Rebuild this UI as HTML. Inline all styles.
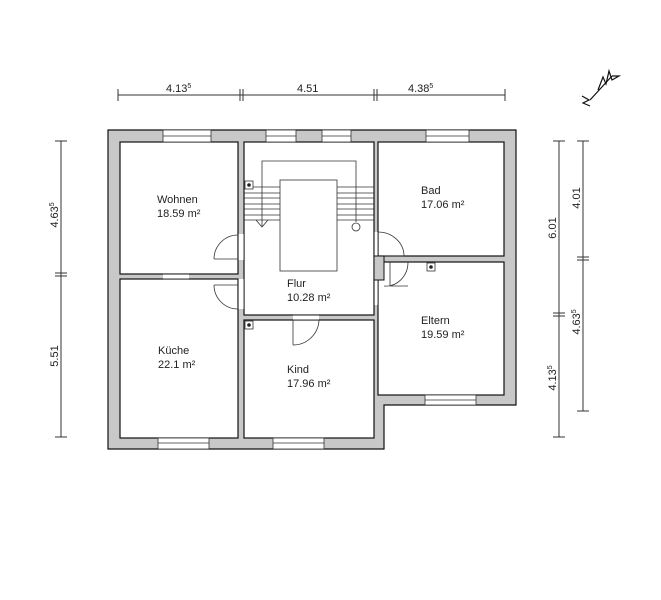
<!DOCTYPE html>
<html><head><meta charset="utf-8"><style>
body{margin:0;background:#fff}
svg{display:block}
text{font-family:"Liberation Sans",sans-serif;font-size:11px;fill:#222}
</style></head><body>
<svg width="661" height="600" viewBox="0 0 661 600" xmlns="http://www.w3.org/2000/svg">
<!-- dimension lines -->
<g stroke="#333" stroke-width="1" fill="none">
<line x1="118" y1="95" x2="505" y2="95"/>
<line x1="118" y1="89" x2="118" y2="101"/>
<line x1="240" y1="89" x2="240" y2="101"/><line x1="243" y1="89" x2="243" y2="101"/>
<line x1="374" y1="89" x2="374" y2="101"/><line x1="377" y1="89" x2="377" y2="101"/>
<line x1="505" y1="89" x2="505" y2="101"/>
<line x1="61" y1="141" x2="61" y2="437"/>
<line x1="55" y1="141" x2="67" y2="141"/>
<line x1="55" y1="273" x2="67" y2="273"/><line x1="55" y1="276" x2="67" y2="276"/>
<line x1="55" y1="437" x2="67" y2="437"/>
<line x1="559" y1="141" x2="559" y2="437"/>
<line x1="553" y1="141" x2="565" y2="141"/>
<line x1="553" y1="313" x2="565" y2="313"/><line x1="553" y1="316" x2="565" y2="316"/>
<line x1="553" y1="437" x2="565" y2="437"/>
<line x1="583" y1="141" x2="583" y2="411"/>
<line x1="577" y1="141" x2="589" y2="141"/>
<line x1="577" y1="257" x2="589" y2="257"/><line x1="577" y1="260" x2="589" y2="260"/>
<line x1="577" y1="411" x2="589" y2="411"/>
</g>
<text x="166" y="92">4.13<tspan font-size="7" dy="-4">5</tspan></text>
<text x="297" y="92">4.51</text>
<text x="408" y="92">4.38<tspan font-size="7" dy="-4">5</tspan></text>
<text transform="translate(58,215) rotate(-90)" text-anchor="middle">4.63<tspan font-size="7" dy="-4">5</tspan></text>
<text transform="translate(58,356) rotate(-90)" text-anchor="middle">5.51</text>
<text transform="translate(556,228) rotate(-90)" text-anchor="middle">6.01</text>
<text transform="translate(556,378) rotate(-90)" text-anchor="middle">4.13<tspan font-size="7" dy="-4">5</tspan></text>
<text transform="translate(580,198) rotate(-90)" text-anchor="middle">4.01</text>
<text transform="translate(580,322) rotate(-90)" text-anchor="middle">4.63<tspan font-size="7" dy="-4">5</tspan></text>
<!-- north arrow -->
<g stroke="#111" stroke-width="1.2" fill="none">
<line x1="590" y1="100" x2="612" y2="76"/>
<polyline points="598,90 603,77 606,84 609,71 612,80 619,76 612,76"/>
<polyline points="582,96 589,100 583,103 590,106"/>
</g>
<!-- outer shape -->
<path d="M108,130 H516 V405 H384 V449 H108 Z" fill="#c8c8c8" stroke="#111" stroke-width="1.2"/>
<!-- rooms -->
<g fill="#fff" stroke="#111" stroke-width="1.2">
<rect x="120" y="142" width="118" height="132"/>
<rect x="120" y="279" width="118" height="159"/>
<rect x="244" y="142" width="130" height="173"/>
<rect x="244" y="320" width="130" height="118"/>
<rect x="378" y="142" width="126" height="114"/>
<rect x="378" y="262" width="126" height="133"/>
</g>
<!-- windows / openings -->
<g fill="#fff" stroke="#333" stroke-width="0.8">
<rect x="163" y="130" width="48" height="12"/>
<rect x="266" y="130" width="30" height="12"/>
<rect x="322" y="130" width="29" height="12"/>
<rect x="426" y="130" width="43" height="12"/>
<rect x="158" y="438" width="51" height="11"/>
<rect x="273" y="438" width="51" height="11"/>
<rect x="425" y="395" width="51" height="10"/>
</g>
<g fill="#fff" stroke="none">
<rect x="163" y="274.6" width="26" height="4"/>
<rect x="293" y="315.6" width="26" height="4"/>
<rect x="238.6" y="234" width="5" height="26"/>
<rect x="238.6" y="279" width="5" height="30"/>
<rect x="374.6" y="232" width="3" height="24"/>
<rect x="374.6" y="280" width="3" height="25"/>
</g>
<g stroke="#333" stroke-width="0.8" fill="none">
<line x1="163" y1="136" x2="211" y2="136"/><line x1="266" y1="136" x2="296" y2="136"/>
<line x1="322" y1="136" x2="351" y2="136"/><line x1="426" y1="136" x2="469" y2="136"/>
<line x1="158" y1="443" x2="209" y2="443"/><line x1="273" y1="443" x2="324" y2="443"/>
<line x1="425" y1="400" x2="476" y2="400"/>
<line x1="163" y1="274" x2="189" y2="274"/><line x1="163" y1="279" x2="189" y2="279"/>
<line x1="293" y1="315" x2="319" y2="315"/><line x1="293" y1="320" x2="319" y2="320"/>
<!-- stairs -->
<polyline points="262,226 262,161 356,161 356,222"/>
<rect x="280" y="180" width="57" height="91"/>
<line x1="244" y1="187" x2="280" y2="187"/><line x1="244" y1="193" x2="280" y2="193"/>
<line x1="244" y1="198" x2="280" y2="198"/><line x1="244" y1="204" x2="280" y2="204"/>
<line x1="244" y1="209" x2="280" y2="209"/><line x1="244" y1="215" x2="280" y2="215"/>
<line x1="244" y1="220" x2="280" y2="220"/>
<line x1="337" y1="187" x2="374" y2="187"/><line x1="337" y1="193" x2="374" y2="193"/>
<line x1="337" y1="198" x2="374" y2="198"/><line x1="337" y1="204" x2="374" y2="204"/>
<line x1="337" y1="209" x2="374" y2="209"/><line x1="337" y1="215" x2="374" y2="215"/>
<line x1="337" y1="220" x2="374" y2="220"/>
<polyline points="256,220 262,227 268,220"/>
<circle cx="356" cy="227" r="4"/>
<!-- doors -->
<line x1="214" y1="259" x2="238" y2="259"/>
<path d="M214,259 A24,24 0 0 1 238,235"/>
<line x1="214" y1="285" x2="238" y2="285"/>
<path d="M214,285 A24,24 0 0 0 238,309"/>
<line x1="293" y1="320" x2="293" y2="345"/>
<path d="M293,345 A26,26 0 0 0 319,320"/>
<line x1="378" y1="256" x2="404" y2="256"/>
<path d="M404,256 A26,24 0 0 0 378,232"/>
<polyline points="390,262 390,286 408,286"/>
<path d="M408,262 A22,24 0 0 1 384,286"/>
</g>
<rect x="374" y="256" width="10" height="24" fill="#c8c8c8" stroke="#111" stroke-width="1"/>
<!-- sockets -->
<g fill="#fff" stroke="#333" stroke-width="0.8">
<rect x="245" y="181" width="8" height="8"/><rect x="427" y="263" width="8" height="8"/><rect x="245" y="321" width="8" height="8"/>
</g>
<g fill="#222"><circle cx="249" cy="185" r="1.8"/><circle cx="431" cy="267" r="1.8"/><circle cx="249" cy="325" r="1.8"/></g>
<!-- labels -->
<text x="157" y="203">Wohnen</text><text x="157" y="217">18.59 m²</text>
<text x="421" y="194">Bad</text><text x="421" y="208">17.06 m²</text>
<text x="287" y="287">Flur</text><text x="287" y="301">10.28 m²</text>
<text x="421" y="324">Eltern</text><text x="421" y="338">19.59 m²</text>
<text x="158" y="354">Küche</text><text x="158" y="368">22.1 m²</text>
<text x="287" y="373">Kind</text><text x="287" y="387">17.96 m²</text>
</svg>
</body></html>
